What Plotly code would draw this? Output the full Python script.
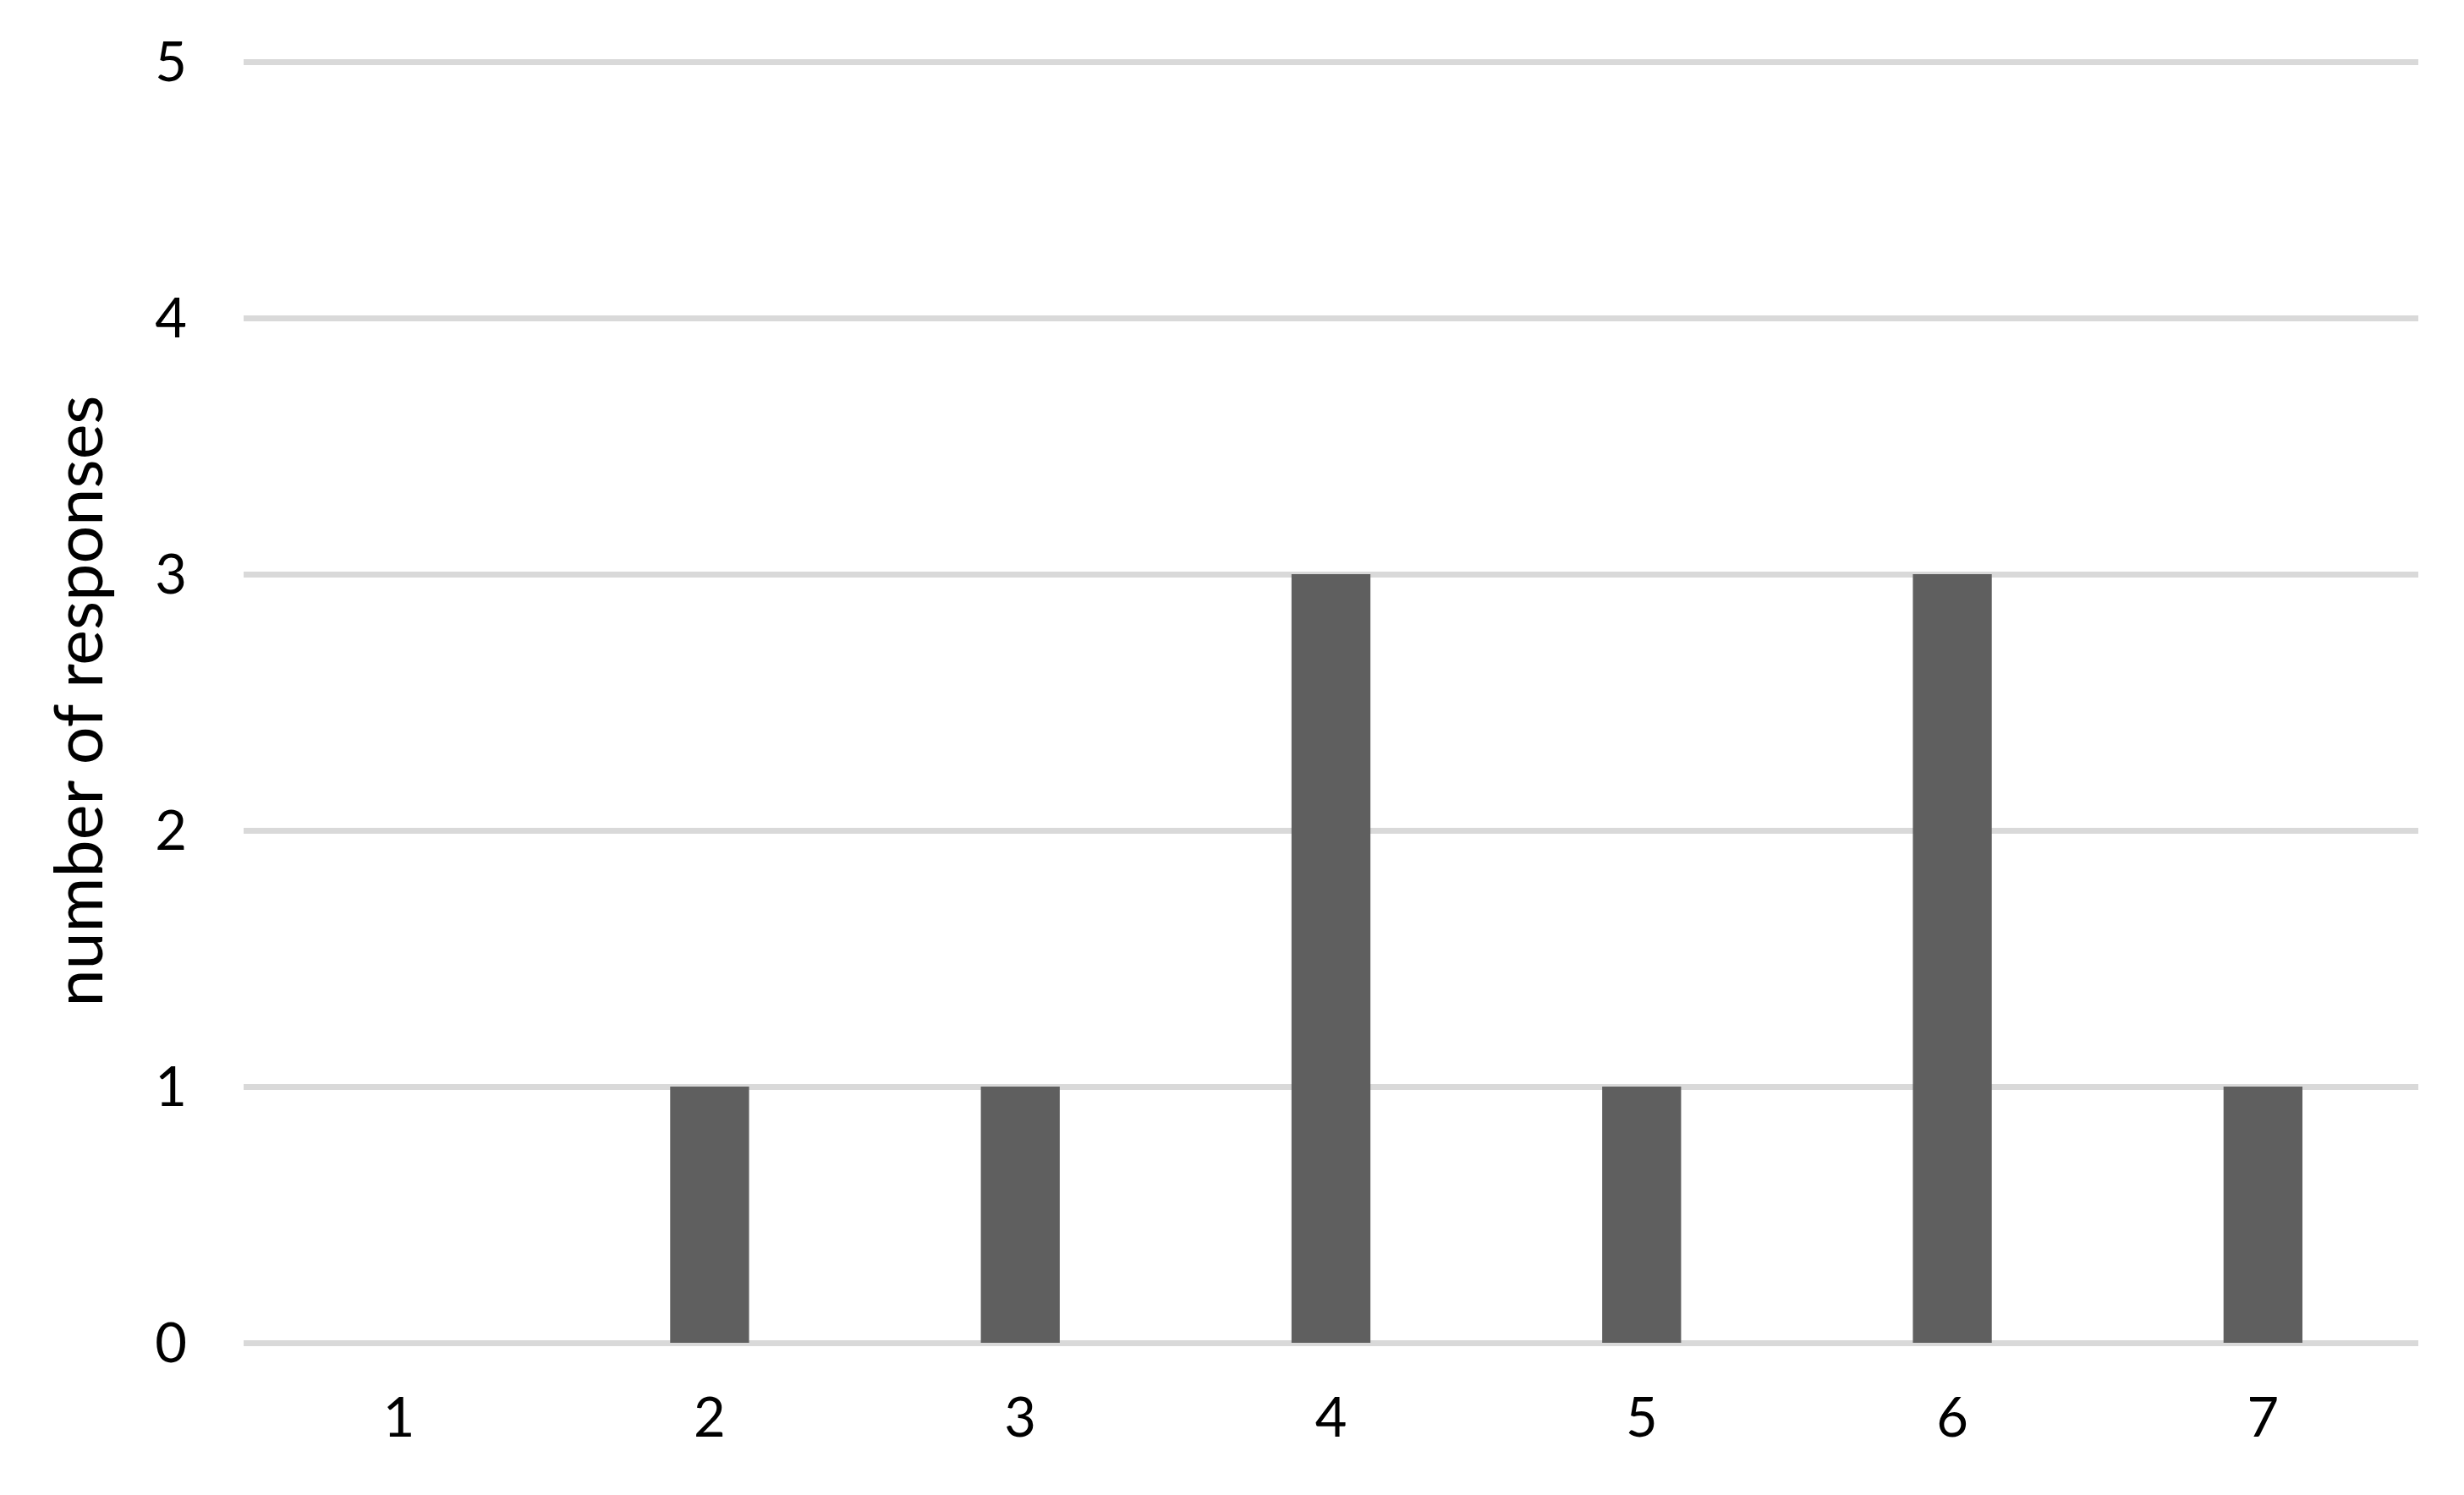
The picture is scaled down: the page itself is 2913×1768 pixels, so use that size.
import plotly.graph_objects as go

categories = ["1", "2", "3", "4", "5", "6", "7"]
responses = [0, 1, 1, 3, 1, 3, 1]
y_ticks = [0, 1, 2, 3, 4, 5]

font_family = "Lato, Carlito, Calibri, sans-serif"
grid_color = "#D9D9D9"

fig = go.Figure()

fig.add_trace(go.Bar(
    x=categories,
    y=responses,
    marker_color="#5F5F5F",
    marker_line_width=0,
    showlegend=False
))

# page body adds ~8px offset, so margins are shifted to compensate
fig.update_layout(
    width=2913,
    height=1768,
    margin=dict(l=280, r=62, t=62, b=188),
    paper_bgcolor="white",
    plot_bgcolor="white",
    bargap=0.746,
    font=dict(family=font_family, size=64, color="black"),
    xaxis=dict(
        type="category",
        showgrid=False,
        showline=False,
        zeroline=False,
        ticks="",
        ticklabelstandoff=45,
        tickfont=dict(size=65)
    ),
    yaxis=dict(
        range=[0, 5.01],
        tickvals=y_ticks,
        showgrid=True,
        gridcolor=grid_color,
        gridwidth=7,
        zeroline=True,
        zerolinecolor=grid_color,
        zerolinewidth=7,
        showline=False,
        ticks="",
        ticklabelstandoff=66,
        tickfont=dict(size=65),
        title=dict(text="number of responses", font=dict(size=79), standoff=35)
    )
)

fig.write_html("out.html")
